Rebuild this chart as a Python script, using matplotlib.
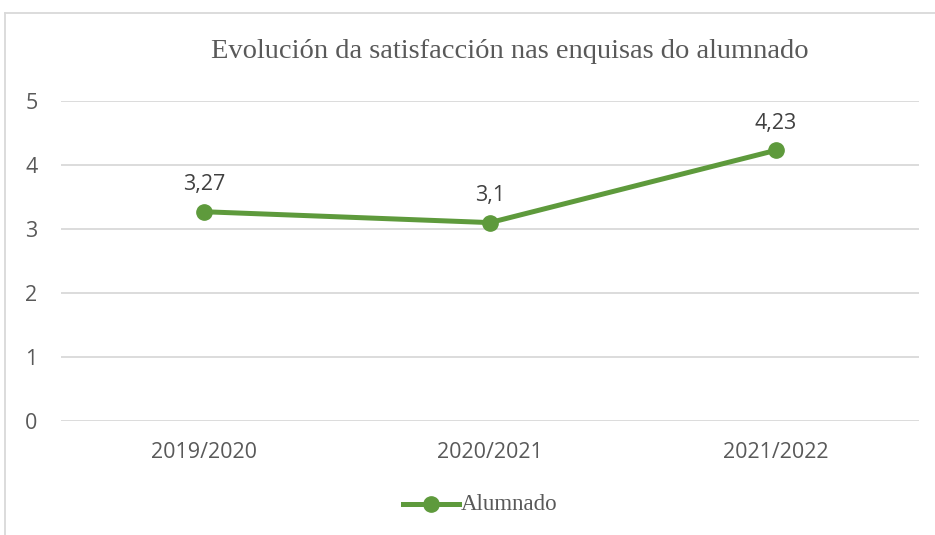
import matplotlib
matplotlib.use("Agg")
import matplotlib.pyplot as plt
from matplotlib.lines import Line2D

categories = ["2019/2020", "2020/2021", "2021/2022"]
values = [3.27, 3.10, 4.23]
value_labels = ["3,27", "3,1", "4,23"]
yticks = [0, 1, 2, 3, 4, 5]
series_name = "Alumnado"
title = "Evolución da satisfacción nas enquisas do alumnado"

W, H = 935, 535
fig = plt.figure(figsize=(W / 100, H / 100), dpi=100)
fig.patch.set_facecolor("white")

# chart frame (open on right and bottom)
fig.add_artist(Line2D([5 / W, 5 / W], [0, 1 - 13 / H], transform=fig.transFigure,
                      color="#D9D9D9", lw=1.3))
fig.add_artist(Line2D([5 / W, 1], [1 - 13 / H, 1 - 13 / H], transform=fig.transFigure,
                      color="#D9D9D9", lw=1.3))

left, right = 61, 919
top, bottom = 101, 421
ax = fig.add_axes([left / W, 1 - bottom / H, (right - left) / W, (bottom - top) / H])
ax.set_xlim(-0.5, len(categories) - 0.5)
ax.set_ylim(0, 5)

green = "#5E9A3C"
gray = "#595959"
x = list(range(len(categories)))
ax.plot(x, values, color=green, lw=3.6, marker="o", markersize=11,
        solid_capstyle="round", zorder=3, clip_on=False)

for xi, v, lab in zip(x, values, value_labels):
    ax.annotate(lab, (xi, v), xytext=(0, 12), textcoords="offset points",
                ha="center", va="bottom", fontsize=15.5, color="#404040",
                family="Open Sans")

ax.set_yticks(yticks)
ax.set_xticks(x)
ax.set_xticklabels(categories)
ax.yaxis.grid(True, color="#D9D9D9", lw=1.3)
ax.set_axisbelow(True)
for s in ax.spines.values():
    s.set_visible(False)
ax.tick_params(axis="both", length=0, labelsize=15.5, labelcolor=gray)
ax.tick_params(axis="y", pad=17)
ax.tick_params(axis="x", pad=15)
for t in ax.get_xticklabels() + ax.get_yticklabels():
    t.set_family("Open Sans")

fig.text(510 / W, 1 - 51 / H, title, ha="center", va="center",
         fontsize=20.5, color=gray, family="Liberation Serif")

# legend
ly = 1 - 504 / H
fig.add_artist(Line2D([403 / W, 459 / W], [ly, ly], transform=fig.transFigure,
                      color=green, lw=3.6))
fig.add_artist(Line2D([431 / W], [ly], transform=fig.transFigure, color=green,
                      marker="o", markersize=11, lw=0))
fig.text(461 / W, ly, series_name, ha="left", va="center", fontsize=16.5,
         color=gray, family="Liberation Serif")

fig.savefig("out.png", dpi=100, facecolor="white")
